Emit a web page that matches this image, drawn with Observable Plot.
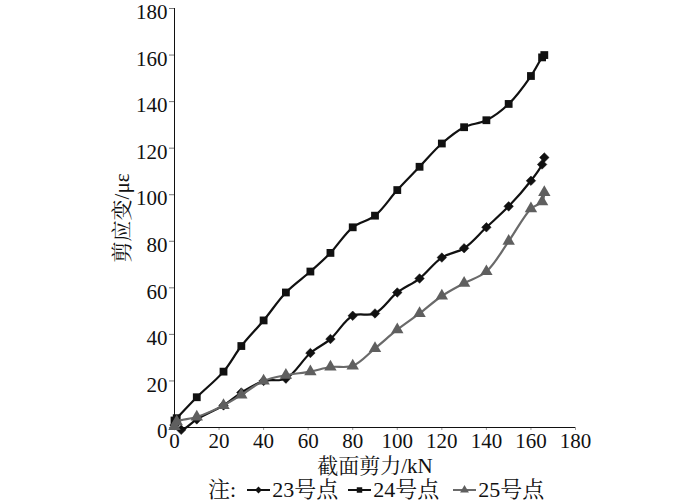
<!DOCTYPE html>
<html><head><meta charset="utf-8">
<script src="https://cdn.jsdelivr.net/npm/d3@7"></script>
<script src="https://cdn.jsdelivr.net/npm/@observablehq/plot@0.6"></script>
<style>
body{margin:0;background:#fff;font-family:"Liberation Serif","Noto Serif CJK SC","Noto Sans CJK SC",serif;}
#legend{height:24px;display:flex;align-items:center;padding-left:208px;font-size:22px;color:#111;white-space:nowrap;line-height:24px}
#legend .item{display:flex;align-items:center}
#legend svg{display:block}
</style></head><body><div id="chart"></div><div id="legend"></div>
<script>
// Shared x ticks / y ticks
const xTicks = [0,20,40,60,80,100,120,140,160,180];
const yTicks = [0,20,40,60,80,100,120,140,160,180];

// Series: 23号点 (diamonds)
const x23 = [0,3,10,22,30,40,50,61,70,80,90,100,110,120,130,140,150,160,165,166];
const y23 = [1,-1,3.5,9.5,15,20,21,32,38,48,49,58,64,73,77,86,95,106,113,116];
// Series: 24号点 (squares)
const x24 = [0,1,10,22,30,40,50,61,70,80,90,100,110,120,130,140,150,160,165,166];
const y24 = [3,4,13,24,35,46,58,67,75,86,91,102,112,122,129,132,139,151,159,160];
// Series: 25号点 (triangles)
const x25 = [0,1,10,22,30,40,50,61,70,80,90,100,110,120,130,140,150,160,165,166];
const y25 = [0.5,2.5,4.5,9.5,14,20,22.5,24,26,26.5,34,42,49,56.5,62,67,80,94,97,101];

const seriesNames = ["23号点","24号点","25号点"];

const toRows = (xs, ys) => xs.map((x,i)=>({x, y: ys[i]}));
const d23 = toRows(x23,y23), d24 = toRows(x24,y24), d25 = toRows(x25,y25);

const FONT = '"Liberation Serif","Noto Serif CJK SC","Noto Sans CJK SC",serif';
const black = "#111", gray = "#5f5f5f", grayLine = "#6a6a6a";

const plot = Plot.plot({
  width: 700, height: 478,
  marginLeft: 174, marginRight: 125, marginTop: 8, marginBottom: 51,
  style: {fontFamily: FONT, fontSize: "21px", color: "#111", background: "#fff", overflow: "visible"},
  x: {domain: [0,180]},
  y: {domain: [0,180]},
  marks: [
    Plot.axisX({ticks: xTicks, tickSize: 3, tickPadding: 3, fontSize: 21, stroke: "#999",
      label: "截面剪力/kN", labelAnchor: "center", labelOffset: 45, labelArrow: "none"}),
    Plot.axisY({ticks: yTicks, tickSize: 5, stroke: "#777", text: null, label: null}),
    Plot.axisY({ticks: yTicks, tickSize: 0, tickPadding: 7, dy: 4, fontSize: 21,
      label: "剪应变/με", labelAnchor: "center", labelOffset: 60, labelArrow: "none"}),
    Plot.ruleY([0], {stroke: "#111", strokeWidth: 1}),
    Plot.ruleX([0], {stroke: "#111", strokeWidth: 1}),
    Plot.line(d23, {x: "x", y: "y", curve: "catmull-rom", stroke: black, strokeWidth: 2.2}),
    Plot.dot(d23, {x: "x", y: "y", symbol: "diamond2", r: 4.3, fill: black, stroke: black, strokeWidth: 0.5}),
    Plot.line(d24, {x: "x", y: "y", curve: "catmull-rom", stroke: black, strokeWidth: 2.2}),
    Plot.dot(d24, {x: "x", y: "y", symbol: "square", r: 4.4, fill: black}),
    Plot.line(d25, {x: "x", y: "y", curve: "catmull-rom", stroke: grayLine, strokeWidth: 2.2}),
    Plot.dot(d25, {x: "x", y: "y", symbol: "triangle", r: 4.6, fill: gray})
  ]
});
document.getElementById("chart").appendChild(plot);

// Legend
const legend = d3.select("#legend");
legend.append("span").text("注:");
const legendSpec = [
  {name: seriesNames[0], sym: d3.symbolDiamond2, size: 30, color: black, line: black},
  {name: seriesNames[1], sym: d3.symbolSquare, size: 30, color: black, line: black},
  {name: seriesNames[2], sym: d3.symbolTriangle, size: 34, color: gray, line: grayLine}
];
legendSpec.forEach((s, i) => {
  const it = legend.append("span").attr("class", "item").style("margin-left", i === 0 ? "10px" : (i === 1 ? "9px" : "13px"));
  const sv = it.append("svg").attr("width", 25).attr("height", 14);
  sv.append("line").attr("x1", 1).attr("x2", 24).attr("y1", 7).attr("y2", 7).attr("stroke", s.line).attr("stroke-width", 2);
  sv.append("path").attr("d", d3.symbol(s.sym, s.size)()).attr("transform", "translate(12.5,7)").attr("fill", s.color);
  it.append("span").text(s.name).style("margin-left", "1px");
});
</script>
</body></html>
